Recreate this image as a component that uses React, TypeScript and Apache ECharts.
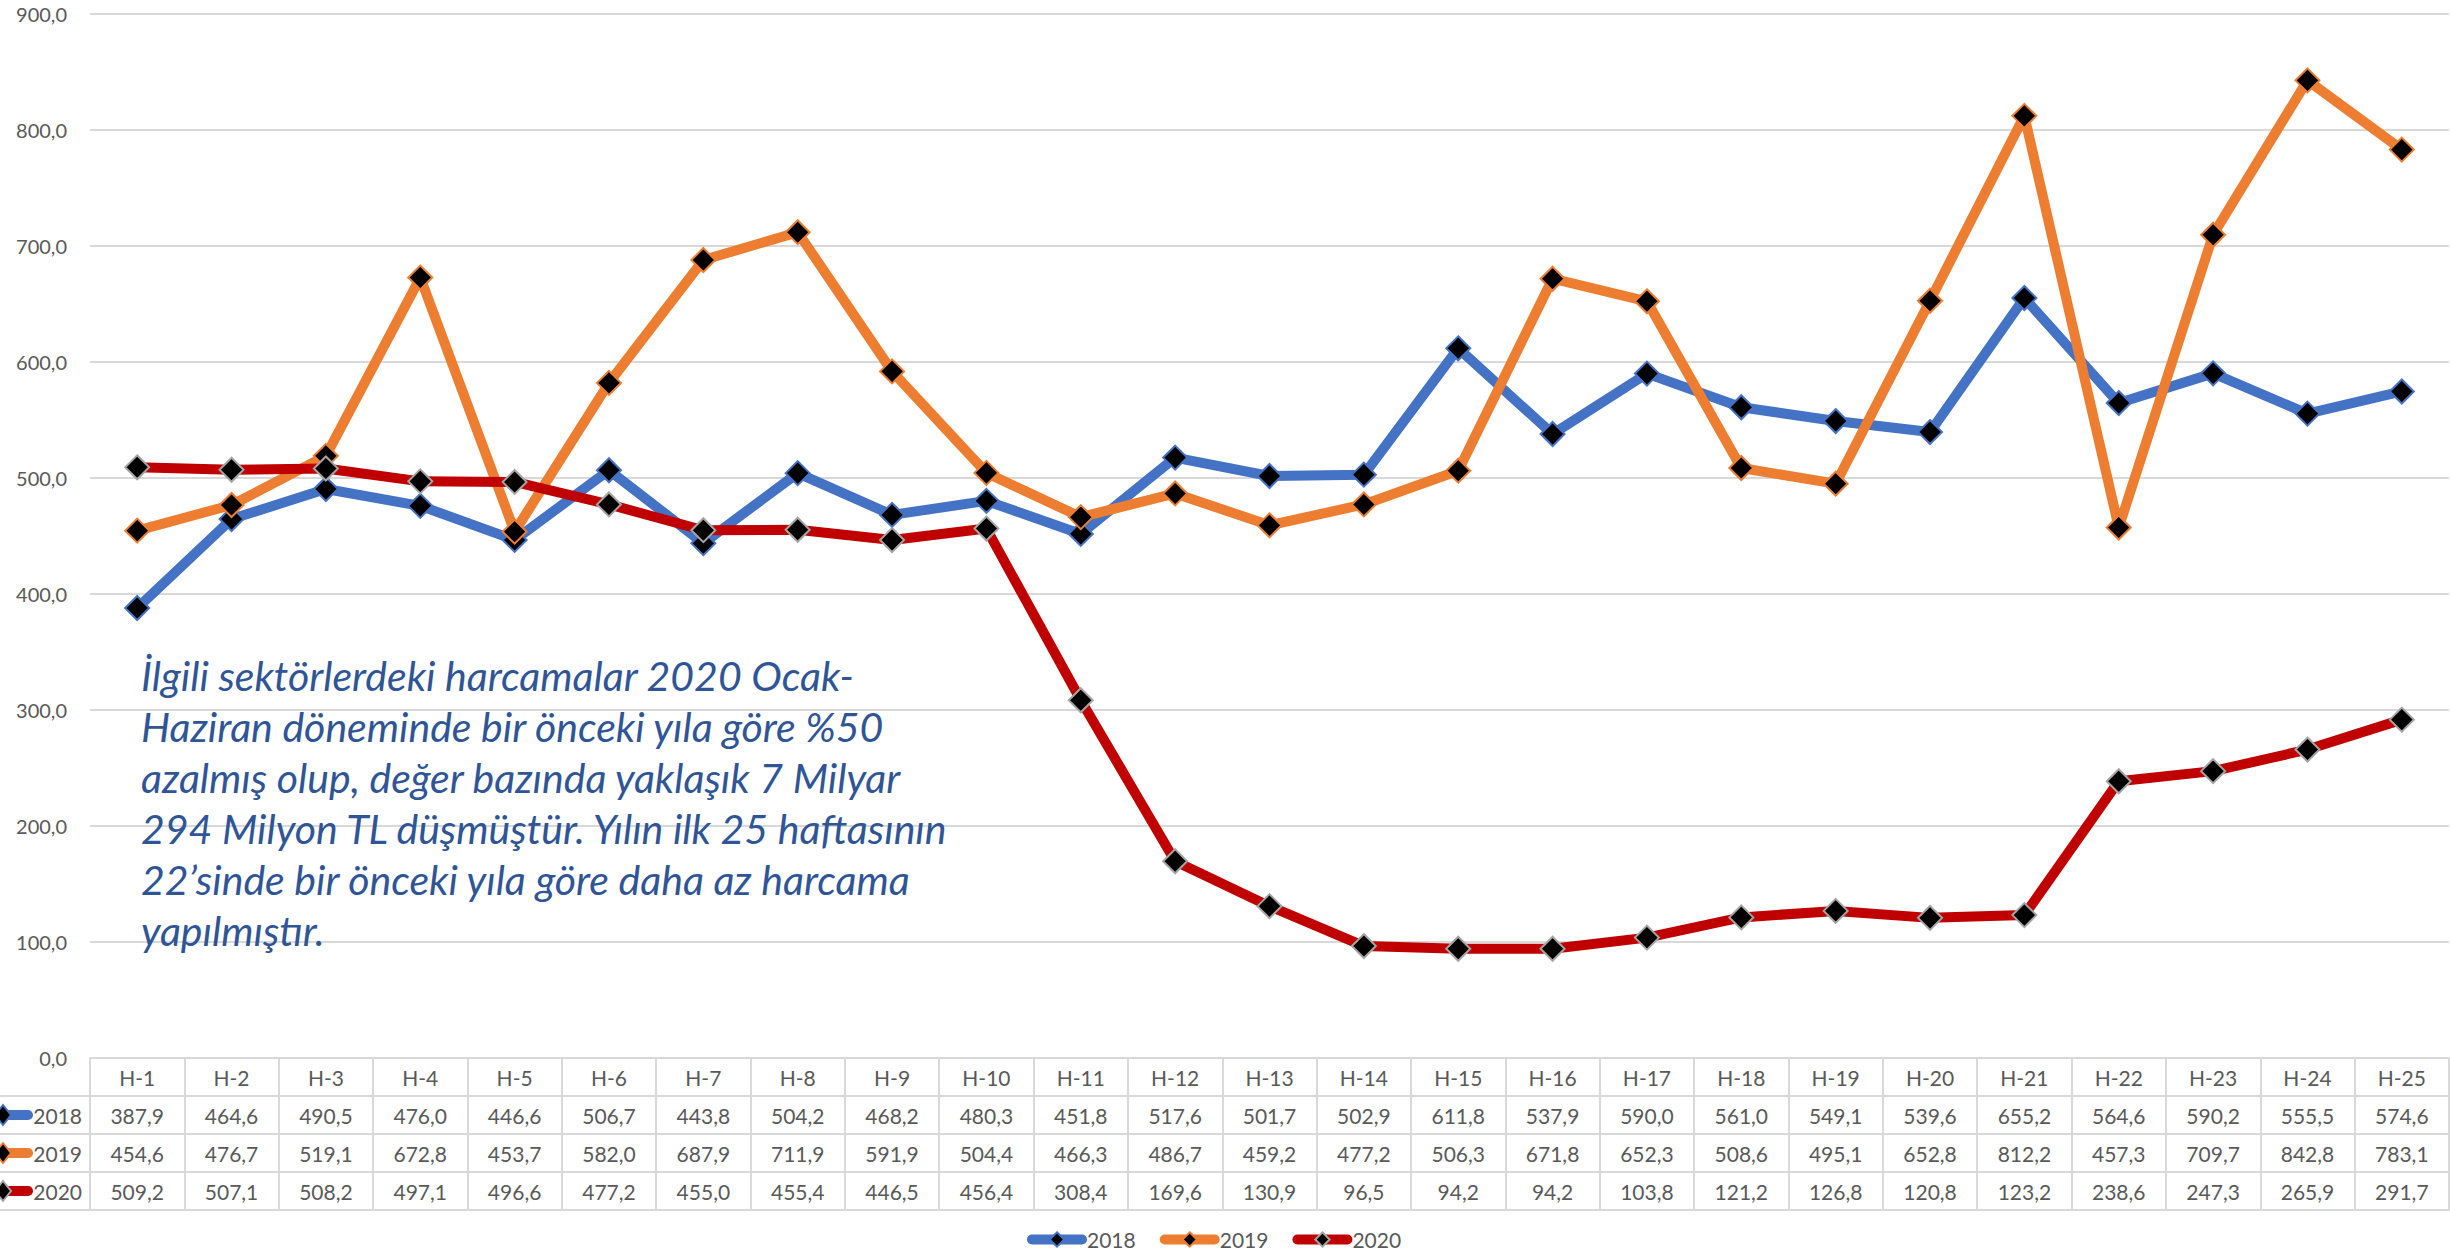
import React, { useEffect, useRef } from "react";
import * as echarts from "echarts";

const categories = ["H-1", "H-2", "H-3", "H-4", "H-5", "H-6", "H-7", "H-8", "H-9", "H-10", "H-11", "H-12", "H-13", "H-14", "H-15", "H-16", "H-17", "H-18", "H-19", "H-20", "H-21", "H-22", "H-23", "H-24", "H-25"];
const seriesNames = ["2018", "2019", "2020"];
const v2018 = [387.9, 464.6, 490.5, 476.0, 446.6, 506.7, 443.8, 504.2, 468.2, 480.3, 451.8, 517.6, 501.7, 502.9, 611.8, 537.9, 590.0, 561.0, 549.1, 539.6, 655.2, 564.6, 590.2, 555.5, 574.6];
const v2019 = [454.6, 476.7, 519.1, 672.8, 453.7, 582.0, 687.9, 711.9, 591.9, 504.4, 466.3, 486.7, 459.2, 477.2, 506.3, 671.8, 652.3, 508.6, 495.1, 652.8, 812.2, 457.3, 709.7, 842.8, 783.1];
const v2020 = [509.2, 507.1, 508.2, 497.1, 496.6, 477.2, 455.0, 455.4, 446.5, 456.4, 308.4, 169.6, 130.9, 96.5, 94.2, 94.2, 103.8, 121.2, 126.8, 120.8, 123.2, 238.6, 247.3, 265.9, 291.7];
const seriesValues = [v2018, v2019, v2020];
const lineColors = ["#4472C4", "#ED7D31", "#C00000"];
const markerBorders = ["#4472C4", "#ED7D31", "#A5A5A5"];
const annotationLines = [
  "İlgili sektörlerdeki harcamalar 2020 Ocak-",
  "Haziran döneminde bir önceki yıla göre %50",
  "azalmış olup, değer bazında yaklaşık 7 Milyar",
  "294 Milyon TL düşmüştür. Yılın ilk 25 haftasının",
  "22’sinde bir önceki yıla göre daha az harcama",
  "yapılmıştır.",
];

const FONT = "Lato, 'Open Sans', sans-serif";
const GRID_COLOR = "#D9D9D9";
const TEXT_COLOR = "#595959";
const fmt = (v: number) => v.toFixed(1).replace(".", ",");

const W = 2450;
const H = 1255;
const GRID_LEFT = 90;
const GRID_TOP = 14;
const AXIS_Y = 1058;
const ROW_H = 38;

export default function App() {
  const ref = useRef<HTMLDivElement>(null);
  useEffect(() => {
    if (!ref.current) return;
    const chart = echarts.init(ref.current, null, { renderer: "svg", width: W, height: H });

    const graphics: any[] = [];
    // horizontal table rules
    for (let r = 1; r <= 4; r++) {
      const y = AXIS_Y + r * ROW_H;
      graphics.push({
        type: "line",
        shape: { x1: 0, y1: y, x2: W, y2: y },
        style: { stroke: GRID_COLOR, lineWidth: 2 },
        z: 1,
      });
    }
    // row labels with legend keys
    seriesNames.forEach((name, i) => {
      const cy = AXIS_Y + (i + 1) * ROW_H + ROW_H / 2;
      graphics.push({
        type: "line",
        shape: { x1: -38, y1: cy, x2: 28, y2: cy },
        style: { stroke: lineColors[i], lineWidth: 10, lineCap: "round" },
        z: 5,
      });
      graphics.push({
        type: "polygon",
        shape: { points: [[3, cy - 10], [11, cy], [3, cy + 10], [-5, cy]] },
        style: { fill: "#000", stroke: markerBorders[i], lineWidth: 2 },
        z: 6,
      });
      graphics.push({
        type: "text",
        x: 82,
        y: cy,
        style: {
          text: name,
          align: "right",
          verticalAlign: "middle",
          fontSize: 21,
          fontFamily: FONT,
          fill: TEXT_COLOR,
        },
        z: 6,
      });
    });
    // annotation
    graphics.push({
      type: "text",
      x: 141,
      y: 650,
      style: {
        text: annotationLines.join("\n"),
        fontSize: 41,
        fontStyle: "italic",
        fontFamily: FONT,
        fill: "#2F5597",
        lineHeight: 51,
        verticalAlign: "top",
        align: "left",
      },
      z: 10,
    });

    chart.setOption({
      animation: false,
      backgroundColor: "#ffffff",
      grid: { left: GRID_LEFT, right: 1, top: GRID_TOP, bottom: H - AXIS_Y, containLabel: false },
      legend: {
        data: seriesNames,
        left: 1027,
        top: 1229,
        padding: 0,
        itemWidth: 50,
        itemHeight: 18,
        itemGap: 24,
        lineStyle: { width: 10, cap: "round" },
        textStyle: { fontSize: 21, color: TEXT_COLOR, fontFamily: FONT },
      },
      xAxis: {
        type: "category",
        data: categories,
        boundaryGap: true,
        axisLine: { show: true, lineStyle: { color: GRID_COLOR, width: 2 } },
        axisTick: { show: true, interval: 0, length: ROW_H * 4, lineStyle: { color: GRID_COLOR, width: 2 } },
        axisLabel: {
          interval: 0,
          margin: 0,
          fontSize: 21,
          lineHeight: ROW_H,
          color: TEXT_COLOR,
          fontFamily: FONT,
          formatter: (value: string, index: number) =>
            [value, fmt(v2018[index]), fmt(v2019[index]), fmt(v2020[index])].join("\n"),
        },
        splitLine: { show: false },
      },
      yAxis: {
        type: "value",
        min: 0,
        max: 900,
        interval: 100,
        axisLine: { show: false },
        axisTick: { show: false },
        axisLabel: {
          margin: 23,
          fontSize: 20,
          color: TEXT_COLOR,
          fontFamily: FONT,
          formatter: (v: number) => fmt(v),
        },
        splitLine: { lineStyle: { color: GRID_COLOR, width: 2 } },
      },
      series: seriesNames.map((name, i) => ({
        name,
        type: "line",
        data: seriesValues[i],
        symbol: "diamond",
        symbolSize: 24,
        showAllSymbol: true,
        lineStyle: { color: lineColors[i], width: 10, cap: "round", join: "round" },
        itemStyle: { color: "#000", borderColor: markerBorders[i], borderWidth: 2 },
        emphasis: { disabled: true },
        z: 2 + i,
      })),
      graphic: graphics,
    });
    return () => chart.dispose();
  }, []);
  return (
    <div
      ref={ref}
      style={{ position: "fixed", left: 0, top: 0, width: W, height: H, background: "#fff" }}
    />
  );
}
